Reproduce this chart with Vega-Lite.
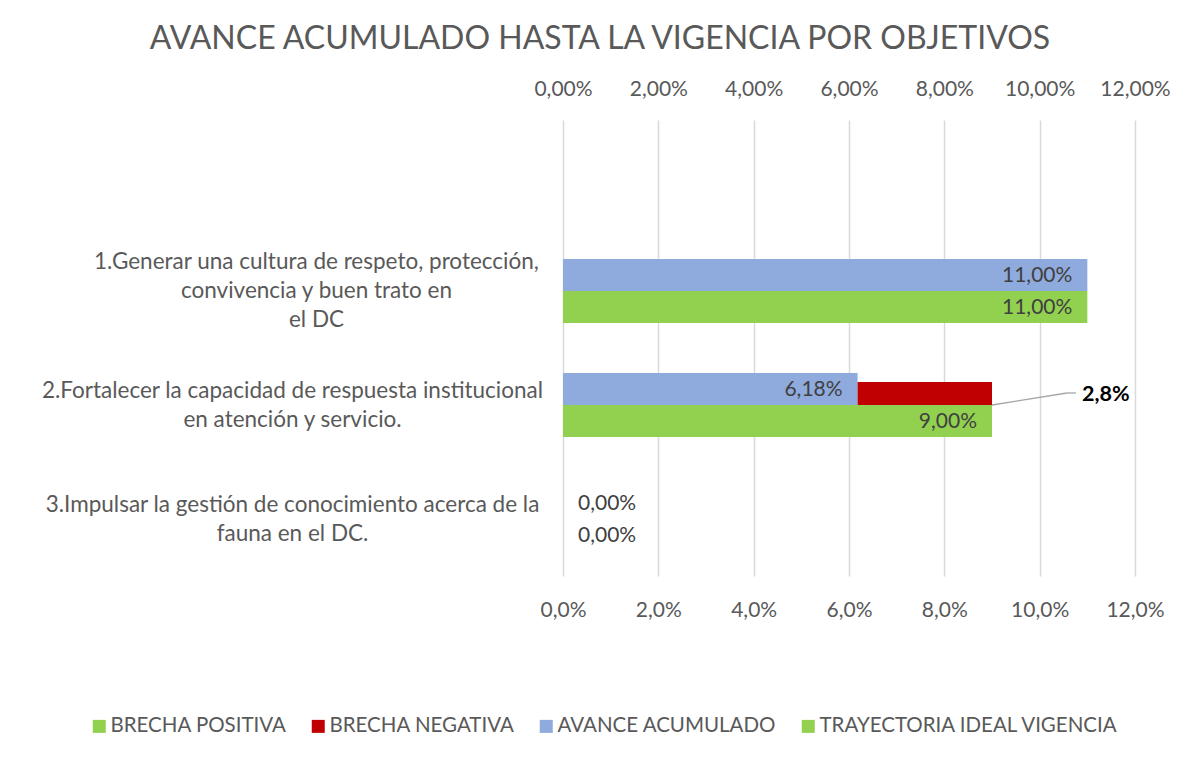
{
  "$schema": "https://vega.github.io/schema/vega-lite/v6.json",
  "width": 572,
  "height": 456,
  "autosize": {"type": "none"},
  "padding": {"left": 563, "top": 120, "right": 56, "bottom": 181},
  "background": "white",
  "config": {
    "locale": {"number": {"decimal": ",", "thousands": ".", "grouping": [3], "currency": ["", " €"]}},
    "font": "Lato",
    "view": {"stroke": null},
    "axis": {"labelColor": "#595959", "labelFont": "Lato", "labelFontSize": 21, "domain": false, "ticks": false, "tickSize": 0, "title": null, "labelOverlap": false, "labelFlush": false, "labelBound": false}
  },
  "title": {
    "text": "AVANCE ACUMULADO HASTA LA VIGENCIA POR OBJETIVOS",
    "font": "Lato", "fontSize": 32, "fontWeight": "normal", "color": "#595959",
    "anchor": "middle", "dx": -249, "offset": 22
  },
  "data": {"values": [
    {"objetivo": "1.Generar una cultura de respeto, protección, convivencia y buen trato en el DC", "serie": "AVANCE ACUMULADO", "valor": 0.11},
    {"objetivo": "1.Generar una cultura de respeto, protección, convivencia y buen trato en el DC", "serie": "TRAYECTORIA IDEAL VIGENCIA", "valor": 0.11},
    {"objetivo": "2.Fortalecer la capacidad de respuesta institucional en atención y servicio.", "serie": "AVANCE ACUMULADO", "valor": 0.0618},
    {"objetivo": "2.Fortalecer la capacidad de respuesta institucional en atención y servicio.", "serie": "TRAYECTORIA IDEAL VIGENCIA", "valor": 0.09},
    {"objetivo": "2.Fortalecer la capacidad de respuesta institucional en atención y servicio.", "serie": "BRECHA NEGATIVA", "valor": 0.028},
    {"objetivo": "3.Impulsar la gestión de conocimiento acerca de la fauna en el DC.", "serie": "AVANCE ACUMULADO", "valor": 0},
    {"objetivo": "3.Impulsar la gestión de conocimiento acerca de la fauna en el DC.", "serie": "TRAYECTORIA IDEAL VIGENCIA", "valor": 0}
  ]},
  "layer": [
    {
      "transform": [{"filter": "datum.serie != 'BRECHA NEGATIVA'"}],
      "mark": {"type": "bar"},
      "encoding": {
        "y": {
          "field": "objetivo", "type": "nominal",
          "scale": {"domain": ["", "1.Generar una cultura de respeto, protección, convivencia y buen trato en el DC", "2.Fortalecer la capacidad de respuesta institucional en atención y servicio.", "3.Impulsar la gestión de conocimiento acerca de la fauna en el DC."], "paddingInner": 0.4386, "paddingOuter": 0.2193},
          "axis": {
            "labelAlign": "center", "labelBaseline": "middle", "labelLineHeight": 29, "labelFontSize": 22.5, "labelLimit": 0,
            "labelPadding": {"condition": {"test": "indexof(datum.value, '1.') == 0", "value": 247}, "value": 271},
            "labelOffset": {"condition": {"test": "indexof(datum.value, '1.') == 0", "value": -29}, "value": -14.5},
            "labelExpr": "indexof(datum.value, '1.') == 0 ? ['1.Generar una cultura de respeto, protección,', 'convivencia y buen trato en', 'el DC'] : indexof(datum.value, '2.') == 0 ? ['2.Fortalecer la capacidad de respuesta institucional', 'en atención y servicio.'] : indexof(datum.value, '3.') == 0 ? ['3.Impulsar la gestión de conocimiento acerca de la', 'fauna en el DC.'] : ''"
          }
        },
        "yOffset": {"field": "serie", "type": "nominal", "scale": {"domain": ["AVANCE ACUMULADO", "TRAYECTORIA IDEAL VIGENCIA"], "paddingInner": 0, "paddingOuter": 0}},
        "x": {
          "field": "valor", "type": "quantitative",
          "scale": {"domain": [0, 0.12], "nice": false, "zero": true},
          "axis": {"orient": "bottom", "format": ".1%", "values": [0, 0.02, 0.04, 0.06, 0.08, 0.1, 0.12], "labelPadding": 23, "grid": true, "gridColor": "#d9d9d9", "gridWidth": 1.5}
        },
        "color": {
          "field": "serie", "type": "nominal",
          "scale": {"domain": ["BRECHA POSITIVA", "BRECHA NEGATIVA", "AVANCE ACUMULADO", "TRAYECTORIA IDEAL VIGENCIA"], "range": ["#92d050", "#c00000", "#8faadc", "#92d050"]},
          "legend": {
            "title": null, "orient": "none", "direction": "horizontal", "columns": 4,
            "legendX": -474, "legendY": 596,
            "symbolType": "square", "symbolSize": 169, "symbolStrokeWidth": 0,
            "labelFont": "Lato", "labelFontSize": 20.5, "labelColor": "#595959", "labelOffset": 1,
            "columnPadding": 21, "labelLimit": 0
          }
        }
      }
    },
    {
      "transform": [
        {"pivot": "serie", "value": "valor", "groupby": ["objetivo"]},
        {"filter": "datum['BRECHA NEGATIVA'] > 0"}
      ],
      "mark": {"type": "bar", "color": "#c00000", "height": 23, "yOffset": -11.5},
      "encoding": {
        "y": {"field": "objetivo", "type": "nominal", "scale": {"domain": ["", "1.Generar una cultura de respeto, protección, convivencia y buen trato en el DC", "2.Fortalecer la capacidad de respuesta institucional en atención y servicio.", "3.Impulsar la gestión de conocimiento acerca de la fauna en el DC."], "paddingInner": 0.4386, "paddingOuter": 0.2193}},
        "x": {
          "field": "AVANCE ACUMULADO", "type": "quantitative",
          "scale": {"domain": [0, 0.12], "nice": false, "zero": true},
          "axis": {"orient": "top", "format": ".2%", "values": [0, 0.02, 0.04, 0.06, 0.08, 0.1, 0.12], "labelPadding": 21, "grid": false}
        },
        "x2": {"field": "TRAYECTORIA IDEAL VIGENCIA"}
      }
    },
    {
      "transform": [{"filter": "datum.serie != 'BRECHA NEGATIVA' && datum.valor > 0"}],
      "mark": {"type": "text", "align": "right", "baseline": "middle", "dx": -15, "dy": 1, "font": "Lato", "fontSize": 21, "color": "#404040"},
      "encoding": {
        "y": {"field": "objetivo", "type": "nominal", "scale": {"domain": ["", "1.Generar una cultura de respeto, protección, convivencia y buen trato en el DC", "2.Fortalecer la capacidad de respuesta institucional en atención y servicio.", "3.Impulsar la gestión de conocimiento acerca de la fauna en el DC."], "paddingInner": 0.4386, "paddingOuter": 0.2193}},
        "yOffset": {"field": "serie", "type": "nominal", "scale": {"domain": ["AVANCE ACUMULADO", "TRAYECTORIA IDEAL VIGENCIA"], "paddingInner": 0, "paddingOuter": 0}},
        "x": {"field": "valor", "type": "quantitative", "scale": {"domain": [0, 0.12], "nice": false, "zero": true}, "axis": null},
        "text": {"field": "valor", "type": "quantitative", "format": ".2%"}
      }
    },
    {
      "transform": [{"filter": "datum.serie != 'BRECHA NEGATIVA' && datum.valor == 0"}],
      "mark": {"type": "text", "align": "left", "baseline": "middle", "dx": 15, "dy": 1, "font": "Lato", "fontSize": 21, "color": "#404040"},
      "encoding": {
        "y": {"field": "objetivo", "type": "nominal", "scale": {"domain": ["", "1.Generar una cultura de respeto, protección, convivencia y buen trato en el DC", "2.Fortalecer la capacidad de respuesta institucional en atención y servicio.", "3.Impulsar la gestión de conocimiento acerca de la fauna en el DC."], "paddingInner": 0.4386, "paddingOuter": 0.2193}},
        "yOffset": {"field": "serie", "type": "nominal", "scale": {"domain": ["AVANCE ACUMULADO", "TRAYECTORIA IDEAL VIGENCIA"], "paddingInner": 0, "paddingOuter": 0}},
        "x": {"field": "valor", "type": "quantitative", "scale": {"domain": [0, 0.12], "nice": false, "zero": true}, "axis": null},
        "text": {"field": "valor", "type": "quantitative", "format": ".2%"}
      }
    },
    {
      "transform": [
        {"pivot": "serie", "value": "valor", "groupby": ["objetivo"]},
        {"filter": "datum['BRECHA NEGATIVA'] > 0"}
      ],
      "mark": {"type": "rule", "color": "#a6a6a6", "strokeWidth": 1.3, "x2Offset": 75, "yOffset": 0, "y2Offset": -12},
      "encoding": {
        "y": {"field": "objetivo", "type": "nominal", "scale": {"domain": ["", "1.Generar una cultura de respeto, protección, convivencia y buen trato en el DC", "2.Fortalecer la capacidad de respuesta institucional en atención y servicio.", "3.Impulsar la gestión de conocimiento acerca de la fauna en el DC."], "paddingInner": 0.4386, "paddingOuter": 0.2193}},
        "y2": {"field": "objetivo"},
        "x": {"field": "TRAYECTORIA IDEAL VIGENCIA", "type": "quantitative", "scale": {"domain": [0, 0.12], "nice": false, "zero": true}, "axis": null},
        "x2": {"field": "TRAYECTORIA IDEAL VIGENCIA"}
      }
    },
    {
      "transform": [
        {"pivot": "serie", "value": "valor", "groupby": ["objetivo"]},
        {"filter": "datum['BRECHA NEGATIVA'] > 0"}
      ],
      "mark": {"type": "rule", "color": "#a6a6a6", "strokeWidth": 1.3, "xOffset": 75, "x2Offset": 84, "yOffset": -12, "y2Offset": -12},
      "encoding": {
        "y": {"field": "objetivo", "type": "nominal", "scale": {"domain": ["", "1.Generar una cultura de respeto, protección, convivencia y buen trato en el DC", "2.Fortalecer la capacidad de respuesta institucional en atención y servicio.", "3.Impulsar la gestión de conocimiento acerca de la fauna en el DC."], "paddingInner": 0.4386, "paddingOuter": 0.2193}},
        "y2": {"field": "objetivo"},
        "x": {"field": "TRAYECTORIA IDEAL VIGENCIA", "type": "quantitative", "scale": {"domain": [0, 0.12], "nice": false, "zero": true}, "axis": null},
        "x2": {"field": "TRAYECTORIA IDEAL VIGENCIA"}
      }
    },
    {
      "transform": [
        {"pivot": "serie", "value": "valor", "groupby": ["objetivo"]},
        {"filter": "datum['BRECHA NEGATIVA'] > 0"}
      ],
      "mark": {"type": "text", "align": "left", "baseline": "middle", "dx": 90, "dy": -10, "font": "Lato", "fontSize": 21.5, "fontWeight": "bold", "color": "#000000"},
      "encoding": {
        "y": {"field": "objetivo", "type": "nominal", "scale": {"domain": ["", "1.Generar una cultura de respeto, protección, convivencia y buen trato en el DC", "2.Fortalecer la capacidad de respuesta institucional en atención y servicio.", "3.Impulsar la gestión de conocimiento acerca de la fauna en el DC."], "paddingInner": 0.4386, "paddingOuter": 0.2193}},
        "x": {"field": "TRAYECTORIA IDEAL VIGENCIA", "type": "quantitative", "scale": {"domain": [0, 0.12], "nice": false, "zero": true}, "axis": null},
        "text": {"field": "BRECHA NEGATIVA", "type": "quantitative", "format": ".1%"}
      }
    }
  ],
  "resolve": {"axis": {"x": "independent"}}
}
